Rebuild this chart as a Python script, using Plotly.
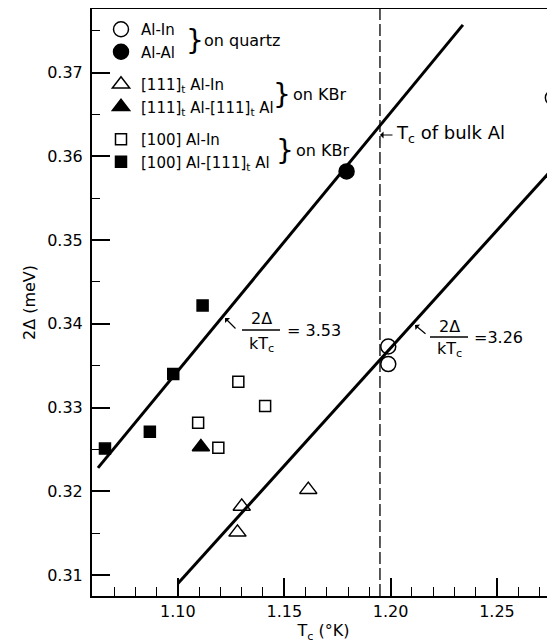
import plotly.graph_objects as go

# ---- data ----
quartz_alin_tc = [1.1989, 1.1989, 1.2763]
quartz_alin_gap = [0.3373, 0.3352, 0.3670]
quartz_alal_tc = [1.1793]
quartz_alal_gap = [0.3582]
kbr111_alin_tc = [1.1280, 1.1300, 1.1613]
kbr111_alin_gap = [0.3151, 0.3182, 0.3202]
kbr111_alal_tc = [1.1108]
kbr111_alal_gap = [0.3253]
kbr100_alin_tc = [1.1095, 1.1190, 1.1284, 1.1410]
kbr100_alin_gap = [0.3282, 0.3252, 0.3331, 0.3302]
kbr100_alal_tc = [1.0657, 1.0868, 1.0978, 1.1116]
kbr100_alal_gap = [0.3251, 0.3271, 0.3340, 0.3422]

fit_353_tc = [1.0624, 1.2340]
fit_353_gap = [0.3228, 0.3757]
fit_326_tc = [1.1000, 1.2800]
fit_326_gap = [0.3090, 0.3596]

bulk_al_tc = 1.195

x_ticks = [1.10, 1.15, 1.20, 1.25]
y_ticks = [0.31, 0.32, 0.33, 0.34, 0.35, 0.36, 0.37]

FONT = "DejaVu Sans"
OFF = 8  # browser body margin
W, H = 555 - OFF, 644 - OFF
L, R, T, B = 92 - OFF, 0, 9 - OFF, 48
PW, PH = W - L - R, H - T - B


def px(x):  # window pixel -> paper
    return (x - OFF - L) / PW


def py(y):
    return (H - B - (y - OFF)) / PH


fig = go.Figure()

fig.add_trace(go.Scatter(x=fit_353_tc, y=fit_353_gap, mode="lines",
                         line=dict(color="black", width=3), showlegend=False,
                         hoverinfo="skip"))
fig.add_trace(go.Scatter(x=fit_326_tc, y=fit_326_gap, mode="lines",
                         line=dict(color="black", width=3), showlegend=False,
                         hoverinfo="skip"))

mline = dict(color="black", width=1.5)
series = [
    ("Al-In", quartz_alin_tc, quartz_alin_gap, "circle-open", 15, "quartz"),
    ("Al-Al", quartz_alal_tc, quartz_alal_gap, "circle", 15, "quartz"),
    ("[111]<sub>t</sub> Al-In", kbr111_alin_tc, kbr111_alin_gap, "triangle-up-open", 15, "kbr111"),
    ("[111]<sub>t</sub> Al-[111]<sub>t</sub> Al", kbr111_alal_tc, kbr111_alal_gap, "triangle-up", 15, "kbr111"),
    ("[100] Al-In", kbr100_alin_tc, kbr100_alin_gap, "square-open", 11, "kbr100"),
    ("[100] Al-[111]<sub>t</sub> Al", kbr100_alal_tc, kbr100_alal_gap, "square", 11, "kbr100"),
]
for name, xs, ys, sym, size, grp in series:
    fig.add_trace(go.Scatter(
        x=xs, y=ys, mode="markers", name=name, legendgroup=grp,
        marker=dict(symbol=sym, size=size, color="black", line=mline),
    ))

# dashed bulk Al Tc line
fig.add_shape(type="line", xref="x", yref="paper", x0=bulk_al_tc, x1=bulk_al_tc,
              y0=0, y1=1, line=dict(color="black", width=1.3, dash="12px,4px"))

ann = []
tf = dict(family=FONT, size=16, color="black")

# braces and group labels for legend
for bx, by, lbl, lx in [(195, 40, "on quartz", 202), (282, 94, "on KBr", 291),
                        (285, 151, "on KBr", 294)]:
    ann.append(dict(x=px(bx), y=py(by), xref="paper", yref="paper", text="}",
                    showarrow=False, font=dict(family=FONT, size=28, color="black"),
                    xanchor="center", yanchor="middle"))
    ann.append(dict(x=px(lx), y=py(by), xref="paper", yref="paper", text=lbl,
                    showarrow=False, font=tf, xanchor="left", yanchor="middle"))

# fraction labels
for (nx, ny, bar_y, bx0, bx1, dy, eqx, eqtxt, tail, tip) in [
    (261, 318, 330, 242, 280, 344, 285, "= 3.53", (237, 330), (225, 318)),
    (449, 326, 337, 430, 468, 349, 472, "=3.26", (427, 335), (415, 325)),
]:
    ann.append(dict(x=px(nx), y=py(ny), xref="paper", yref="paper", text="2Δ",
                    showarrow=False, font=tf, xanchor="center", yanchor="middle"))
    ann.append(dict(x=px(nx), y=py(dy), xref="paper", yref="paper", text="kT<sub>c</sub>",
                    showarrow=False, font=tf, xanchor="center", yanchor="middle"))
    ann.append(dict(x=px(eqx), y=py(bar_y), xref="paper", yref="paper", text=eqtxt,
                    showarrow=False, font=tf, xanchor="left", yanchor="middle"))
    fig.add_shape(type="line", xref="paper", yref="paper", x0=px(bx0), x1=px(bx1),
                  y0=py(bar_y), y1=py(bar_y), line=dict(color="black", width=1.3))
    ann.append(dict(x=px(tip[0]), y=py(tip[1]), xref="paper", yref="paper", text="",
                    showarrow=True, arrowhead=1, arrowsize=1, arrowwidth=1.2,
                    arrowcolor="black", ax=tail[0] - tip[0], ay=tail[1] - tip[1],
                    axref="pixel", ayref="pixel"))

# Tc of bulk Al label
ann.append(dict(x=bulk_al_tc, y=py(135), xref="x", yref="paper", text="",
                showarrow=True, arrowhead=1, arrowsize=1, arrowwidth=1.2,
                arrowcolor="black", ax=14, ay=0))
ann.append(dict(x=px(394), y=py(134), xref="paper", yref="paper",
                text="T<sub>c</sub> of bulk Al", showarrow=False,
                font=dict(family=FONT, size=18, color="black"),
                xanchor="left", yanchor="middle"))

fig.update_layout(
    width=W, height=H,
    margin=dict(l=L, r=R, t=T, b=B, pad=0),
    paper_bgcolor="white", plot_bgcolor="white",
    font=dict(family=FONT, size=16, color="black"),
    annotations=ann,
    legend=dict(x=px(101), y=py(13), xanchor="left", yanchor="top",
                traceorder="grouped", tracegroupgap=10,
                font=dict(family=FONT, size=15, color="black"),
                bgcolor="rgba(0,0,0,0)", itemwidth=30),
    xaxis=dict(range=[1.0596, 1.2773], tickvals=x_ticks,
               ticktext=[f"{v:.2f}" for v in x_ticks],
               ticks="inside", ticklen=18, tickwidth=1.5, tickcolor="black",
               minor=dict(dtick=0.01, tick0=1.10, ticks="inside", ticklen=9,
                          tickwidth=1.3, tickcolor="black"),
               showline=True, linecolor="black", linewidth=2, mirror=True,
               showgrid=False, zeroline=False,
               title=dict(text="T<sub>c</sub> (°K)", standoff=2,
                          font=dict(family=FONT, size=16)),
               automargin=False),
    yaxis=dict(range=[0.3075, 0.3776], tickvals=y_ticks,
               ticktext=[f"{v:.2f}" for v in y_ticks],
               ticks="inside", ticklen=18, tickwidth=1.5, tickcolor="black",
               ticklabelstandoff=4,
               minor=dict(dtick=0.005, tick0=0.31, ticks="inside", ticklen=8,
                          tickwidth=1.3, tickcolor="black"),
               showline=True, linecolor="black", linewidth=2,
               showgrid=False, zeroline=False,
               title=dict(text="2Δ (meV)", standoff=8,
                          font=dict(family=FONT, size=16)),
               automargin=False),
)

fig.write_html("out.html")
